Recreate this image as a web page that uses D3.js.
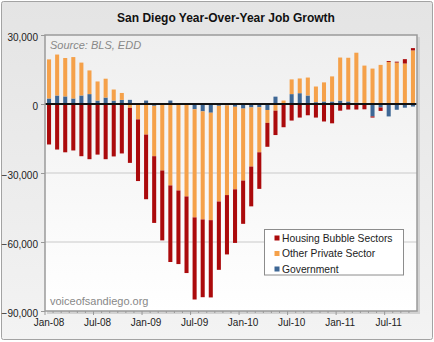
<!DOCTYPE html>
<html>
<head>
<meta charset="utf-8">
<script src="https://cdn.jsdelivr.net/npm/d3@7"></script>
<style>
  body { margin: 0; background: #fff; }
  svg text { font-family: "Liberation Sans", Arial, sans-serif; }
</style>
</head>
<body>
<div class="container"></div>
<script>
var months = ["Jan-08","Feb-08","Mar-08","Apr-08","May-08","Jun-08","Jul-08","Aug-08","Sep-08","Oct-08","Nov-08","Dec-08",
              "Jan-09","Feb-09","Mar-09","Apr-09","May-09","Jun-09","Jul-09","Aug-09","Sep-09","Oct-09","Nov-09","Dec-09",
              "Jan-10","Feb-10","Mar-10","Apr-10","May-10","Jun-10","Jul-10","Aug-10","Sep-10","Oct-10","Nov-10","Dec-10",
              "Jan-11","Feb-11","Mar-11","Apr-11","May-11","Jun-11","Jul-11","Aug-11","Sep-11","Oct-11"];

// jobs, year over year
var housing = [-17600,-19800,-21000,-20200,-22700,-24000,-22000,-24000,-22800,-21500,-23900,-26800,
               -28100,-29000,-30400,-33300,-32000,-33300,-35700,-33800,-33600,-29700,-25800,-23300,
               -18800,-17300,-15900,-10400,-10600,-10100,-7200,-5900,-4900,-5900,-7600,-8400,
               -2900,-2400,-2400,-2300,-500,-1500,400,400,1900,1000];
var otherPrivate = [17000,17800,16700,18000,14300,10300,8300,8200,4800,3000,-1700,-6700,
                    -13300,-21900,-28900,-35400,-37600,-40200,-47000,-47000,-46700,-41600,-39000,-35900,
                    -31300,-25700,-19600,-5600,-2900,1500,6400,6400,7800,6800,8300,10900,
                    18700,19000,21700,16700,15400,17000,18300,18000,17600,23300];
var government = [2400,3700,3300,2400,3700,4300,1500,2800,1500,1800,1800,0,
                  1500,-800,0,1500,0,0,-2300,-3200,-3800,-800,-600,-1200,
                  -2000,-1500,-1400,-2600,3200,0,4300,4700,3700,800,1100,1100,
                  1500,1100,600,0,-5400,-1500,-5400,-2500,-1600,-1100];

var yTicks = [30000, 0, -30000, -60000, -90000];
var xLabels = ["Jan-08","Jul-08","Jan-09","Jul-09","Jan-10","Jul-10","Jan-11","Jul-11"];

var seriesNames = ["Housing Bubble Sectors", "Other Private Sector", "Government"];
var colors = {housing: "#ab0a0c", other: "#f5a14a", gov: "#3e6795"};

var svgWidth = 434;
var svgHeight = 342;
var plot = {left: 45, right: 417, top: 35, bottom: 311};

var svg = d3.select(".container")
    .append("svg")
    .attr("width", svgWidth)
    .attr("height", svgHeight);

var defs = svg.append("defs");
var bgGrad = defs.append("linearGradient").attr("id", "bgGrad")
    .attr("x1", 0).attr("y1", 0).attr("x2", 0).attr("y2", 1);
bgGrad.append("stop").attr("offset", "0%").attr("stop-color", "#e4e4e4");
bgGrad.append("stop").attr("offset", "100%").attr("stop-color", "#f3f3f3");
var plotGrad = defs.append("linearGradient").attr("id", "plotGrad")
    .attr("x1", 0).attr("y1", 0).attr("x2", 0).attr("y2", 1);
plotGrad.append("stop").attr("offset", "0%").attr("stop-color", "#efefef");
plotGrad.append("stop").attr("offset", "100%").attr("stop-color", "#ffffff");

// outer frame
svg.append("rect")
    .attr("x", 1.5).attr("y", 1.5)
    .attr("width", svgWidth - 3).attr("height", svgHeight - 4)
    .attr("rx", 2)
    .attr("fill", "url(#bgGrad)")
    .attr("stroke", "#a3a3a3");

// plot area with a soft shadow
svg.append("rect")
    .attr("x", plot.left + 2).attr("y", plot.top + 2)
    .attr("width", plot.right - plot.left + 1).attr("height", plot.bottom - plot.top + 1)
    .attr("fill", "#d2d2d2");
svg.append("rect")
    .attr("x", plot.left).attr("y", plot.top)
    .attr("width", plot.right - plot.left).attr("height", plot.bottom - plot.top)
    .attr("fill", "url(#plotGrad)");

var x = d3.scaleBand()
    .domain(months)
    .range([plot.left, plot.right])
    .paddingInner(0.5)
    .paddingOuter(0.25);

var y = d3.scaleLinear()
    .domain([-90000, 30000])
    .range([plot.bottom, plot.top]);

// gridlines
svg.append("g")
    .selectAll("line")
    .data([-30000, -60000])
    .enter()
    .append("line")
    .attr("x1", plot.left).attr("x2", plot.right)
    .attr("y1", d => y(d)).attr("y2", d => y(d))
    .attr("stroke", "#c9c9c9")
    .attr("stroke-width", 1.2);

var table = months.map((m, i) => ({
    month: m,
    gov: government[i],
    other: otherPrivate[i],
    housing: housing[i]
}));

var stacked = d3.stack()
    .keys(["gov", "other", "housing"])
    .offset(d3.stackOffsetDiverging)(table);

svg.append("g")
    .selectAll("g")
    .data(stacked)
    .enter()
    .append("g")
    .attr("fill", s => colors[s.key])
    .selectAll("rect")
    .data(s => s)
    .enter()
    .append("rect")
    .attr("x", d => x(d.data.month))
    .attr("width", x.bandwidth())
    .attr("y", d => y(Math.max(d[0], d[1])))
    .attr("height", d => Math.abs(y(d[0]) - y(d[1])));

// zero line
svg.append("line")
    .attr("x1", plot.left).attr("x2", plot.right)
    .attr("y1", y(0)).attr("y2", y(0))
    .attr("stroke", "#111")
    .attr("stroke-width", 2);

// plot border
svg.append("rect")
    .attr("x", plot.left).attr("y", plot.top)
    .attr("width", plot.right - plot.left).attr("height", plot.bottom - plot.top)
    .attr("fill", "none")
    .attr("stroke", "#9a9a9a")
    .attr("stroke-width", 1.5);

// y axis
var leftAxis = d3.axisLeft(y)
    .tickValues(yTicks)
    .tickSize(4)
    .tickFormat(d3.format(","));
var yAxis = svg.append("g")
    .attr("transform", `translate(${plot.left}, 0)`)
    .call(leftAxis);
yAxis.select(".domain").remove();
yAxis.selectAll("line").attr("stroke", "#999");
yAxis.selectAll("text")
    .attr("x", -7)
    .attr("dy", "0.5em")
    .style("font-size", "10px")
    .style("font-family", "Liberation Sans, Arial, sans-serif")
    .attr("fill", "#222");

// x axis: a tick at the start of every month, labels every six months
var xAxis = svg.append("g");
xAxis.selectAll(".minor")
    .data(months)
    .enter()
    .append("line")
    .attr("x1", d => x(d) - x.bandwidth() / 2)
    .attr("x2", d => x(d) - x.bandwidth() / 2)
    .attr("y1", plot.bottom)
    .attr("y2", d => plot.bottom + (xLabels.includes(d) ? 4 : 2))
    .attr("stroke", "#999");
xAxis.selectAll("text")
    .data(xLabels)
    .enter()
    .append("text")
    .attr("x", d => x(d) + x.bandwidth() / 2)
    .attr("y", plot.bottom + 15)
    .attr("text-anchor", "middle")
    .style("font-size", "10px")
    .attr("fill", "#222")
    .text(d => d);

// title and notes
svg.append("text")
    .attr("x", 226).attr("y", 22)
    .attr("text-anchor", "middle")
    .style("font-size", "12px")
    .style("font-weight", "bold")
    .attr("fill", "#111")
    .text("San Diego Year-Over-Year Job Growth");

svg.append("text")
    .attr("x", 50).attr("y", 49)
    .style("font-size", "11px")
    .style("font-style", "italic")
    .attr("fill", "#888")
    .text("Source: BLS, EDD");

svg.append("text")
    .attr("x", 50).attr("y", 305)
    .style("font-size", "11px")
    .attr("fill", "#888")
    .text("voiceofsandiego.org");

// legend
var legend = svg.append("g").attr("transform", "translate(264.5, 229.5)");
legend.append("rect")
    .attr("width", 139).attr("height", 45.5)
    .attr("fill", "#fff")
    .attr("stroke", "#8c8c8c");
var legendKeys = ["housing", "other", "gov"];
var items = legend.selectAll(".item")
    .data(seriesNames)
    .enter()
    .append("g")
    .attr("transform", (d, i) => `translate(10, ${8.5 + i * 15.5})`);
items.append("rect")
    .attr("x", 0).attr("y", -2.5)
    .attr("width", 5).attr("height", 5)
    .attr("fill", (d, i) => colors[legendKeys[i]]);
items.append("text")
    .attr("x", 7.5).attr("dy", "0.36em")
    .style("font-size", "10.3px")
    .attr("fill", "#222")
    .text(d => d);
</script>
</body>
</html>
